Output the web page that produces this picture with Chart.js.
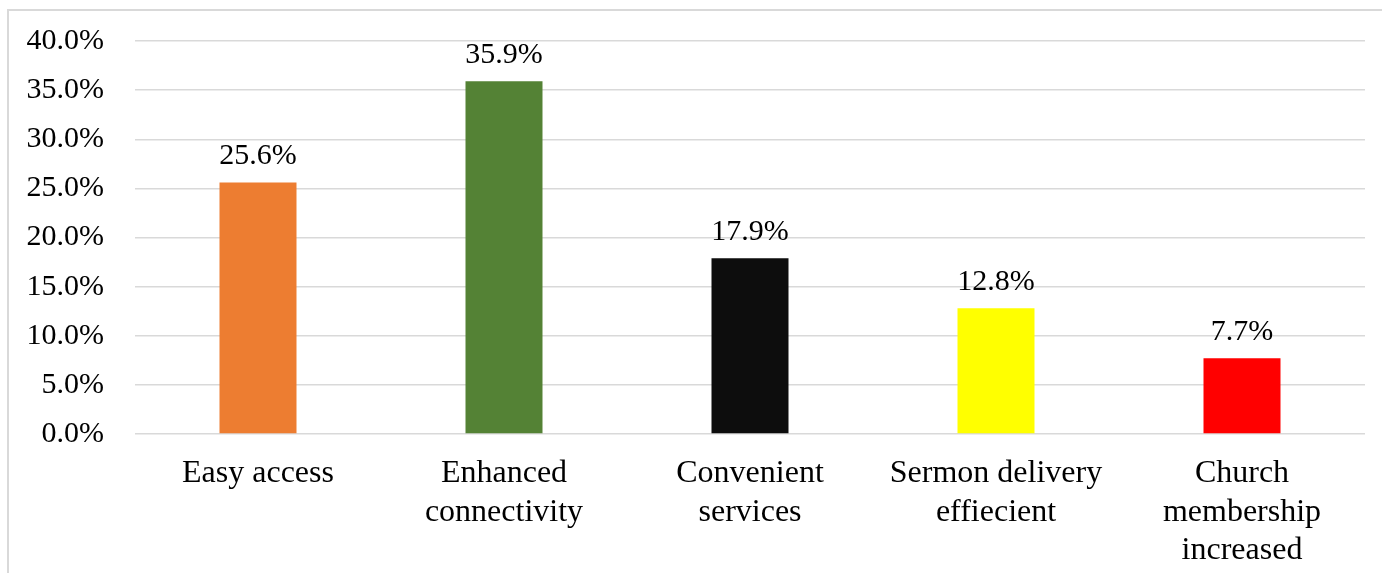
<!DOCTYPE html>
<html>
<head>
<meta charset="utf-8">
<script src="https://cdn.jsdelivr.net/npm/chart.js@4.4.0/dist/chart.umd.min.js"></script>
<style>
  html, body { margin: 0; padding: 0; background: #fff; overflow: hidden; }
  #wrap { position: relative; width: 1382px; height: 573px; }
  #frame { position: absolute; left: 7px; top: 9px; width: 1400px; height: 600px; border: 2px solid #d9d9d9; box-sizing: border-box; }
  canvas { position: absolute; left: 0; top: 0; }
</style>
</head>
<body>
<div id="wrap">
  <div id="frame"></div>
  <canvas id="benefits" width="1382" height="573"></canvas>
</div>
<script>
// Benefits of online church services
const categories = [
    'Easy access',
    ['Enhanced', 'connectivity'],
    ['Convenient', 'services'],
    ['Sermon delivery', 'effiecient'],
    ['Church', 'membership', 'increased']
];
const shares = [25.6, 35.9, 17.9, 12.8, 7.7];
const barColors = ['#ED7D31', '#548235', '#0D0D0D', '#FFFF00', '#FF0000'];
const yTicks = [0, 5, 10, 15, 20, 25, 30, 35, 40];

const pct = v => Number(v).toFixed(1) + '%';

// value labels above each bar
const barLabels = {
    id: 'barLabels',
    afterDatasetsDraw(chart) {
        const ctx = chart.ctx;
        const meta = chart.getDatasetMeta(0);
        ctx.save();
        ctx.font = '30px "Liberation Serif"';
        ctx.fillStyle = '#000';
        ctx.textAlign = 'center';
        ctx.textBaseline = 'alphabetic';
        meta.data.forEach((bar, i) => {
            ctx.fillText(pct(shares[i]), bar.x, bar.y - 18);
        });
        ctx.restore();
    }
};

Chart.defaults.font.family = '"Liberation Serif", "Times New Roman", serif';
Chart.defaults.font.size = 30;
Chart.defaults.color = '#000';

new Chart('benefits', {
    type: 'bar',
    data: {
        labels: categories,
        datasets: [{
            data: shares,
            backgroundColor: barColors,
            categoryPercentage: 1,
            barPercentage: 0.313
        }]
    },
    options: {
        responsive: false,
        animation: false,
        layout: { padding: { top: 41, right: 17, left: 0, bottom: 0 } },
        plugins: {
            legend: { display: false },
            tooltip: { enabled: false }
        },
        scales: {
            x: {
                grid: { display: false },
                border: { display: false },
                ticks: {
                    padding: 13,
                    maxRotation: 0,
                    autoSkip: false,
                    font: { size: 32, lineHeight: 1.19 }
                },
                afterFit: s => {
                    s.height = 139;
                    s.paddingLeft = 0;
                    s.paddingRight = 0;
                }
            },
            y: {
                min: 0,
                max: 40,
                afterBuildTicks: s => { s.ticks = yTicks.map(v => ({ value: v })); },
                grid: { color: '#d9d9d9', lineWidth: 1.5, drawTicks: false },
                border: { display: false },
                ticks: {
                    padding: 31,
                    callback: v => pct(v),
                    font: { size: 30 }
                },
                afterFit: s => {
                    s.width = 135;
                    s.paddingTop = 0;
                    s.paddingBottom = 0;
                }
            }
        }
    },
    plugins: [barLabels]
});
</script>
</body>
</html>
